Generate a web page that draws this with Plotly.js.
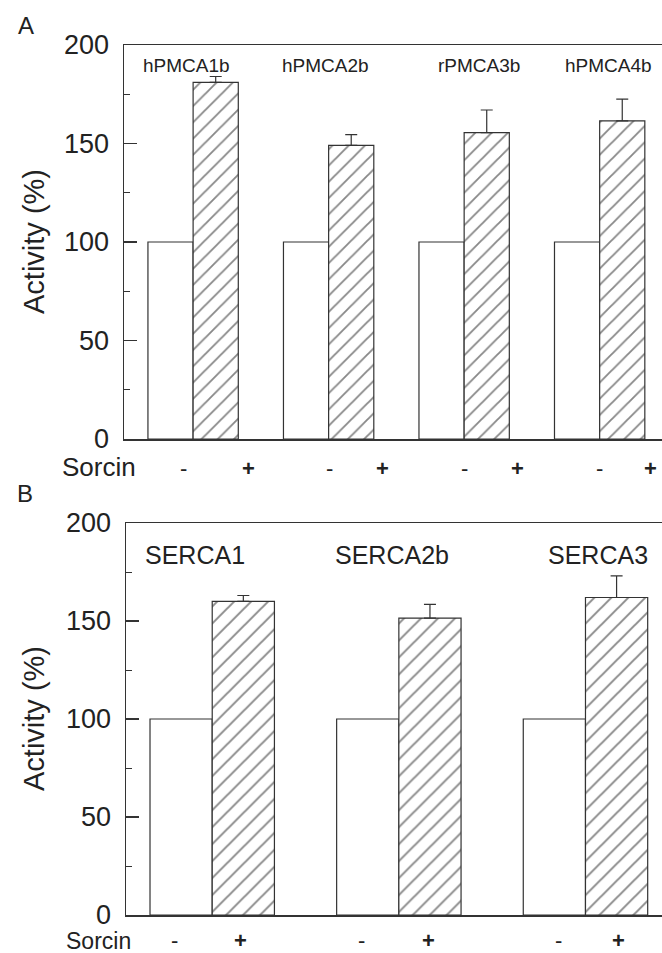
<!DOCTYPE html>
<html>
<head>
<meta charset="utf-8">
<script src="https://cdn.plot.ly/plotly-3.0.1.min.js"></script>
<style>html,body{margin:0;padding:0;background:#fff;}#chart{width:662px;height:953px;}</style>
</head>
<body>
<div id="chart"></div>
<script>
// ---- data ----
const catsA = ["hPMCA1b", "hPMCA2b", "rPMCA3b", "hPMCA4b"];
const minusA = [100, 100, 100, 100];
const plusA = [181, 149, 155.5, 161.5];
const plusErrA = [3, 5.5, 11.5, 11];

const catsB = ["SERCA1", "SERCA2b", "SERCA3"];
const minusB = [100, 100, 100];
const plusB = [160, 151.5, 162];
const plusErrB = [3, 7, 11];

const signLabels = ["-", "+"];
const xLabel = "Sorcin";
const yTitle = "Activity (%)";
const panelLetters = ["A", "B"];

// ---- layout helpers ----
const W = 662, H = 953;
const px = v => v / W;
const py = v => 1 - v / H;
const FONT = "Liberation Sans, Arial, sans-serif";
const INK = "#333";

// offsets of group labels and sign labels (layout only)
const labelOffA = [0.36, 0.42, 0.82, 0.70];
const minusOffA = [0.28, 0.53, 0.5, 0.49];
const plusOffA = [1.72, 1.70, 1.67, 1.62];
const labelOffB = [0.22, 0.39, 0.70];
const minusOffB = [-0.1, -0.1, 0.07];
const plusOffB = [0.95, 0.97, 1.03];

function barTraces(cats, minus, plus, err, xa, ya, psize) {
  const xw = cats.map((c, i) => 3 * i);
  const xh = cats.map((c, i) => 3 * i + 1);
  return [
    {
      type: "bar", x: xw, y: minus, width: 1, xaxis: xa, yaxis: ya,
      marker: {color: "#fff", line: {color: INK, width: 1.2}},
      hoverinfo: "skip", showlegend: false
    },
    {
      type: "bar", x: xh, y: plus, width: 1, xaxis: xa, yaxis: ya,
      marker: {
        color: "#fff", line: {color: INK, width: 1.2},
        pattern: {shape: "/", size: psize, solidity: 0.16, fgcolor: "#111", bgcolor: "#fff", fillmode: "overlay"}
      },
      error_y: {type: "data", symmetric: false, array: err, arrayminus: err.map(() => 0),
        color: INK, thickness: 1.2, width: 6},
      hoverinfo: "skip", showlegend: false
    }
  ];
}

const data = [
  ...barTraces(catsA, minusA, plusA, plusErrA, "x", "y", 11.5),
  ...barTraces(catsB, minusB, plusB, plusErrB, "x2", "y2", 12)
];

function yax(domTop, domBot) {
  return {
    domain: [py(domBot), py(domTop)], range: [0, 200], fixedrange: true,
    showline: true, linecolor: INK, linewidth: 1.5,
    showgrid: false, zeroline: false,
    tickmode: "array", tickvals: [0, 50, 100, 150, 200],
    ticks: "inside", ticklen: 13, tickwidth: 1.3, tickcolor: INK,
    minor: {tickmode: "array", tickvals: [25, 75, 125, 175], ticks: "inside", ticklen: 6, tickwidth: 1, tickcolor: INK},
    tickfont: {family: FONT, size: 27, color: "#222"},
    ticklabelstandoff: 8
  };
}
function xax(left, range) {
  return {
    domain: [px(left), 1], range: range, fixedrange: true,
    showline: true, linecolor: INK, linewidth: 1.5, mirror: true,
    showgrid: false, zeroline: false, showticklabels: false, ticks: ""
  };
}

const annotations = [];
// Panel A
catsA.forEach((c, i) => {
  annotations.push({xref: "x", yref: "paper", x: 3 * i + labelOffA[i], y: py(65), text: c, showarrow: false,
    font: {family: FONT, size: 19, color: "#222"}, xanchor: "center", yanchor: "middle"});
  annotations.push({xref: "x", yref: "paper", x: 3 * i + minusOffA[i], y: py(468), text: signLabels[0], showarrow: false,
    font: {family: FONT, size: 22, color: "#222"}, xanchor: "center", yanchor: "middle"});
  annotations.push({xref: "x", yref: "paper", x: 3 * i + plusOffA[i], y: py(468), text: "<b>" + signLabels[1] + "</b>", showarrow: false,
    font: {family: FONT, size: 22, color: "#222"}, xanchor: "center", yanchor: "middle"});
});
// Panel B
catsB.forEach((c, i) => {
  annotations.push({xref: "x2", yref: "paper", x: 3 * i + labelOffB[i], y: py(555), text: c, showarrow: false,
    font: {family: FONT, size: 25, color: "#222"}, xanchor: "center", yanchor: "middle"});
  annotations.push({xref: "x2", yref: "paper", x: 3 * i + minusOffB[i], y: py(940), text: signLabels[0], showarrow: false,
    font: {family: FONT, size: 22, color: "#222"}, xanchor: "center", yanchor: "middle"});
  annotations.push({xref: "x2", yref: "paper", x: 3 * i + plusOffB[i], y: py(940), text: "<b>" + signLabels[1] + "</b>", showarrow: false,
    font: {family: FONT, size: 22, color: "#222"}, xanchor: "center", yanchor: "middle"});
});
// Sorcin, y titles, panel letters
[[467, 242, 26, 26, 26], [941, 719, 25, 494, 23]].forEach((p, k) => {
  annotations.push({xref: "paper", yref: "paper", x: px(98.5), y: py(p[0]), text: xLabel, showarrow: false,
    font: {family: FONT, size: p[4], color: "#222"}, xanchor: "center", yanchor: "middle"});
  annotations.push({xref: "paper", yref: "paper", x: px(34), y: py(p[1]), text: yTitle, showarrow: false, textangle: -90,
    font: {family: FONT, size: 29, color: "#222"}, xanchor: "center", yanchor: "middle"});
  annotations.push({xref: "paper", yref: "paper", x: px(p[2]), y: py(p[3]), text: panelLetters[k], showarrow: false,
    font: {family: FONT, size: 24, color: "#222"}, xanchor: "center", yanchor: "middle"});
});

const layout = {
  width: W, height: H,
  margin: {l: 0, r: 0, t: 0, b: 0},
  paper_bgcolor: "#fff", plot_bgcolor: "#fff",
  showlegend: false, bargap: 0,
  xaxis: xax(124, [-1.03, 10.88]),
  yaxis: Object.assign(yax(45, 439), {anchor: "x"}),
  xaxis2: Object.assign(xax(126, [-0.886, 7.73]), {anchor: "y2"}),
  yaxis2: Object.assign(yax(523, 915), {anchor: "x2"}),
  annotations: annotations
};
layout.xaxis.anchor = "y";

Plotly.newPlot("chart", data, layout, {displayModeBar: false, staticPlot: true});
</script>
</body>
</html>
